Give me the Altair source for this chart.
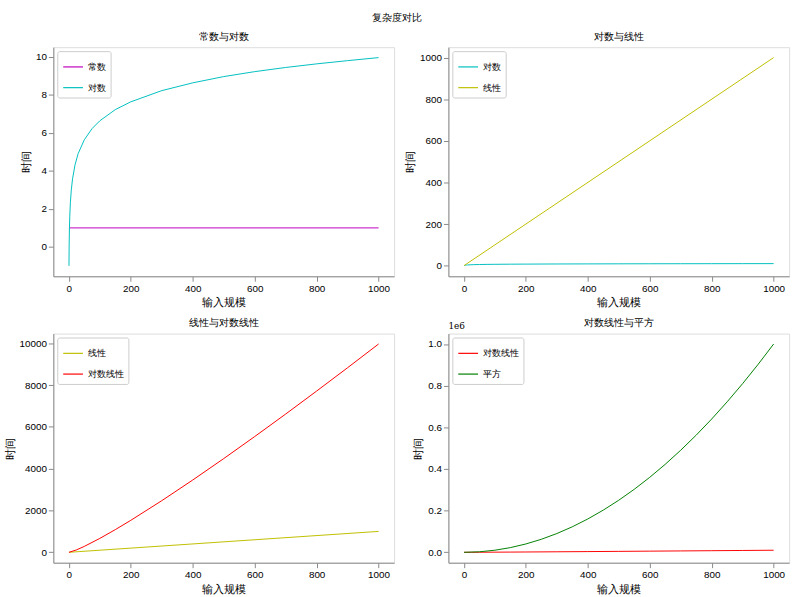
import altair as alt
import pandas as pd

# ---- data ----
x_log = [0.5, 1, 2, 3, 5, 8, 12, 20, 30, 50, 75, 100, 150, 200, 300, 400, 500, 600, 700, 800, 900, 1000]
y_log = [-1.0, 0.0, 1.0, 1.58, 2.32, 3.0, 3.58, 4.32, 4.91, 5.64, 6.23, 6.64, 7.23, 7.64, 8.23, 8.64, 8.97, 9.23, 9.45, 9.64, 9.81, 9.97]

x_const = [0.5, 1000]
y_const = [1, 1]

x_lin = [0.5, 1000]
y_lin = [0.5, 1000]

x_nlogn = [0.5, 25, 50, 100, 150, 200, 300, 400, 500, 600, 700, 800, 900, 1000]
y_nlogn = [-0.5, 116, 282, 664, 1084, 1529, 2469, 3458, 4483, 5537, 6615, 7715, 8832, 9966]

x_sq = [0.5, 50, 100, 150, 200, 250, 300, 350, 400, 450, 500, 550, 600, 650, 700, 750, 800, 850, 900, 950, 1000]
y_sq = [0.25, 2500, 10000, 22500, 40000, 62500, 90000, 122500, 160000, 202500, 250000,
        302500, 360000, 422500, 490000, 562500, 640000, 722500, 810000, 902500, 1000000]

x_ticks = [0, 200, 400, 600, 800, 1000]

FONT = "DejaVu Serif"
W, H = 345, 232


def panel(title, series, ydomain, yticks, label_expr=None, offset_text=None, title_offset=5):
    rows = []
    for name, xs, ys, _ in series:
        for i, (a, b) in enumerate(zip(xs, ys)):
            rows.append({"s": name, "x": a, "y": b, "i": i})
    df = pd.DataFrame(rows)
    names = [s[0] for s in series]
    colors = [s[3] for s in series]
    ax_kw = dict(values=yticks, title="时间", grid=False, titleFontWeight=400, format="d")
    if label_expr:
        ax_kw["labelExpr"] = label_expr
    lines = alt.Chart(df).mark_line(strokeWidth=1, clip=True).encode(
        x=alt.X("x:Q", scale=alt.Scale(domain=[-50, 1050], nice=False, zero=False),
                axis=alt.Axis(values=x_ticks, title="输入规模", grid=False, titleFontWeight=400,
                              format="d")),
        y=alt.Y("y:Q", scale=alt.Scale(domain=ydomain, nice=False, zero=False),
                axis=alt.Axis(**ax_kw)),
        color=alt.Color("s:N", sort=names,
                        scale=alt.Scale(domain=names, range=colors),
                        legend=alt.Legend(title=None, orient="top-left", offset=4,
                                          strokeColor="#cccccc", fillColor="white",
                                          padding=5, cornerRadius=2,
                                          symbolType="stroke", symbolSize=400,
                                          symbolStrokeWidth=1.2,
                                          labelFontSize=9, labelFont=FONT,
                                          rowPadding=5)),
        order="i:Q",
    )
    ch = lines
    if offset_text:
        t = alt.Chart(pd.DataFrame({"t": [offset_text]})).mark_text(
            align="left", baseline="bottom", fontSize=9, font=FONT, color="black"
        ).encode(x=alt.value(0), y=alt.value(-3), text="t:N")
        ch = alt.layer(lines, t)
    return ch.properties(width=W, height=H, title=alt.TitleParams(title, fontSize=10.5, font=FONT,
                                                                   fontWeight=400, offset=title_offset))


c = "#00bfbf"
m = "#bf00bf"
yel = "#bfbf00"
r = "#ff0000"
g = "#008000"

p1 = panel("常数与对数", [("常数", x_const, y_const, m), ("对数", x_log, y_log, c)],
           [-1.55, 10.52], [0, 2, 4, 6, 8, 10])
p2 = panel("对数与线性", [("对数", x_log, y_log, c), ("线性", x_lin, y_lin, yel)],
           [-51, 1050], [0, 200, 400, 600, 800, 1000])
p3 = panel("线性与对数线性", [("线性", x_lin, y_lin, yel), ("对数线性", x_nlogn, y_nlogn, r)],
           [-499, 10465], [0, 2000, 4000, 6000, 8000, 10000])
p4 = panel("对数线性与平方", [("对数线性", x_nlogn, y_nlogn, r), ("平方", x_sq, y_sq, g)],
           [-50000, 1050000], [0, 200000, 400000, 600000, 800000, 1000000],
           label_expr="format(datum.value/1000000, '.1f')", offset_text="1e6", title_offset=-7)

chart = alt.concat(p1, p2, p3, p4, columns=2, spacing=9).resolve_scale(
    color="independent"
).resolve_legend(color="independent").properties(
    title=alt.TitleParams("复杂度对比", fontSize=10.5, font=FONT, fontWeight=400, anchor="middle",
                          offset=8),
    padding={"left": 3, "top": 9, "right": 10, "bottom": 2},
).configure_axis(
    labelFont=FONT, titleFont=FONT, labelFontSize=8.5, titleFontSize=9,
    titleFontWeight=400, labelColor="black", titleColor="black",
    domainColor="black", tickColor="black", tickSize=3.5, labelPadding=2,
    titlePadding=3,
).configure_view(stroke="black", strokeWidth=1).configure(background="white")

chart.save("out.html", embed_options={"renderer": "svg", "actions": False})
